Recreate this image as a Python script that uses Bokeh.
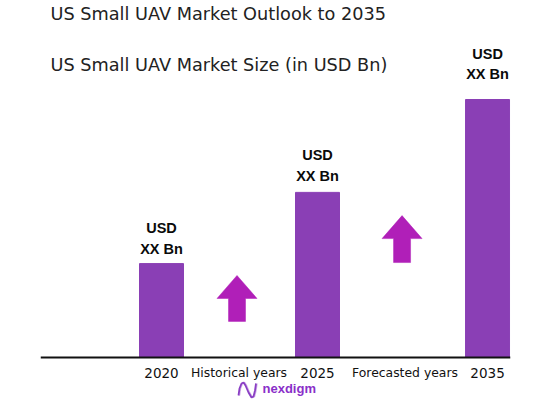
from bokeh.embed import file_html
from bokeh.resources import INLINE
from bokeh.plotting import figure
from bokeh.models import ColumnDataSource, Range1d, FixedTicker, Label

# ---- data ----
categories = ["2020", "2025", "2035"]
slots = [0.0, 1.0, 2.09]
values = [3.64, 6.40, 10.0]           # relative bar heights (chart masks the real numbers as "XX")
label_line1 = ["USD", "USD", "USD"]
label_line2 = ["XX Bn", "XX Bn", "XX Bn"]
gap_line1 = [36, 37, 46]
gap_line2 = [15, 16, 26]
period_labels = ["Historical years", "Forecasted years"]
period_slots = [0.497, 1.561]
arrow_slots = [0.484, 1.542]
arrow_tops = [3.18, 5.50]
arrow_bottoms = [1.40, 3.68]
title_lines = ["US Small UAV Market Outlook to 2035", "US Small UAV Market Size (in USD Bn)"]
brand = "nexdigm"

PURPLE = "#8A3FB5"
MAGENTA = "#B01FB8"
TITLE_FONT = "DejaVu Sans"

W, H = 548, 405
L, R = 40, 38
AXIS_Y = 357
PX_X = 156.0                 # pixels per slot
PX_Y = 25.8                  # pixels per value unit
x0 = -(161 - L) / PX_X
x1 = x0 + (W - L - R) / PX_X
y0 = -(H - AXIS_Y) / PX_Y
y1 = AXIS_Y / PX_Y

p = figure(width=W, height=H, output_backend="svg", toolbar_location=None,
           x_range=Range1d(x0, x1), y_range=Range1d(y0, y1),
           min_border_left=L, min_border_right=R, min_border_top=0, min_border_bottom=0)
p.outline_line_color = None
p.grid.visible = False
p.yaxis.visible = False

# x axis sitting on the zero line
ax = p.xaxis[0]
ax.fixed_location = 0
ax.ticker = FixedTicker(ticks=slots)
ax.major_label_overrides = {s: c for s, c in zip(slots, categories)}
ax.major_tick_line_color = None
ax.minor_tick_line_color = None
ax.axis_line_color = "#111111"
ax.axis_line_width = 2
ax.major_label_text_font = TITLE_FONT
ax.major_label_text_font_size = "13.5px"
ax.major_label_text_color = "#111111"
ax.major_label_standoff = 4

src = ColumnDataSource(dict(x=slots, top=values))
p.vbar(x="x", top="top", bottom=0, width=44 / PX_X, color=PURPLE, source=src, level="underlay")

for xv, top, t1, t2, g1, g2 in zip(slots, values, label_line1, label_line2, gap_line1, gap_line2):
    for txt, gap in ((t1, g1), (t2, g2)):
        p.add_layout(Label(x=xv, y=top, y_offset=gap, text=txt, text_align="center",
                           text_baseline="middle", text_font="Liberation Sans", text_font_style="bold",
                           text_font_size="14.5px", text_color="#0a0a0a"))

# up arrows
HEAD_W, SHAFT_W, HEAD_H = 20 / PX_X, 8.5 / PX_X, 23 / PX_Y
xs, ys = [], []
for c, t, b in zip(arrow_slots, arrow_tops, arrow_bottoms):
    xs.append([c, c + HEAD_W, c + SHAFT_W, c + SHAFT_W, c - SHAFT_W, c - SHAFT_W, c - HEAD_W])
    ys.append([t, t - HEAD_H, t - HEAD_H, b, b, t - HEAD_H, t - HEAD_H])
p.patches(xs, ys, fill_color=MAGENTA, line_color=MAGENTA, line_width=0.5)

# period captions
for xv, txt in zip(period_slots, period_labels):
    p.add_layout(Label(x=xv, y=0, y_offset=-15, text=txt, text_align="center",
                       text_baseline="middle", text_font=TITLE_FONT, text_font_size="12.4px",
                       text_color="#111111"))

# titles
for txt, yy in zip(title_lines, (13, 64)):
    p.add_layout(Label(x=10, y=H - yy, x_units="screen", y_units="screen", text=txt,
                       text_font=TITLE_FONT, text_font_size="17.7px", text_color="#222222",
                       text_baseline="middle"))

# brand mark
def px(v):
    return (v - 161) / PX_X
def py(v):
    return (AXIS_Y - v) / PX_Y
logo_px = [238, 239, 241, 243, 245, 248, 251, 253, 254.5, 255.5]
logo_py = [395, 388, 383, 382, 385, 392, 397, 396, 390, 383]
p.line([px(v + 1) for v in logo_px], [py(v) for v in logo_py], line_color="#D3B3EA", line_width=1.5)
p.line([px(v) for v in logo_px], [py(v) for v in logo_py], line_color="#8A3FC4", line_width=1.8)
p.add_layout(Label(x=px(262), y=py(388), text=brand, text_baseline="middle", text_font="Liberation Sans",
                   text_font_style="bold", text_font_size="13px", text_color="#8A2FC9"))

open("out.html", "w").write(file_html(p, INLINE))
